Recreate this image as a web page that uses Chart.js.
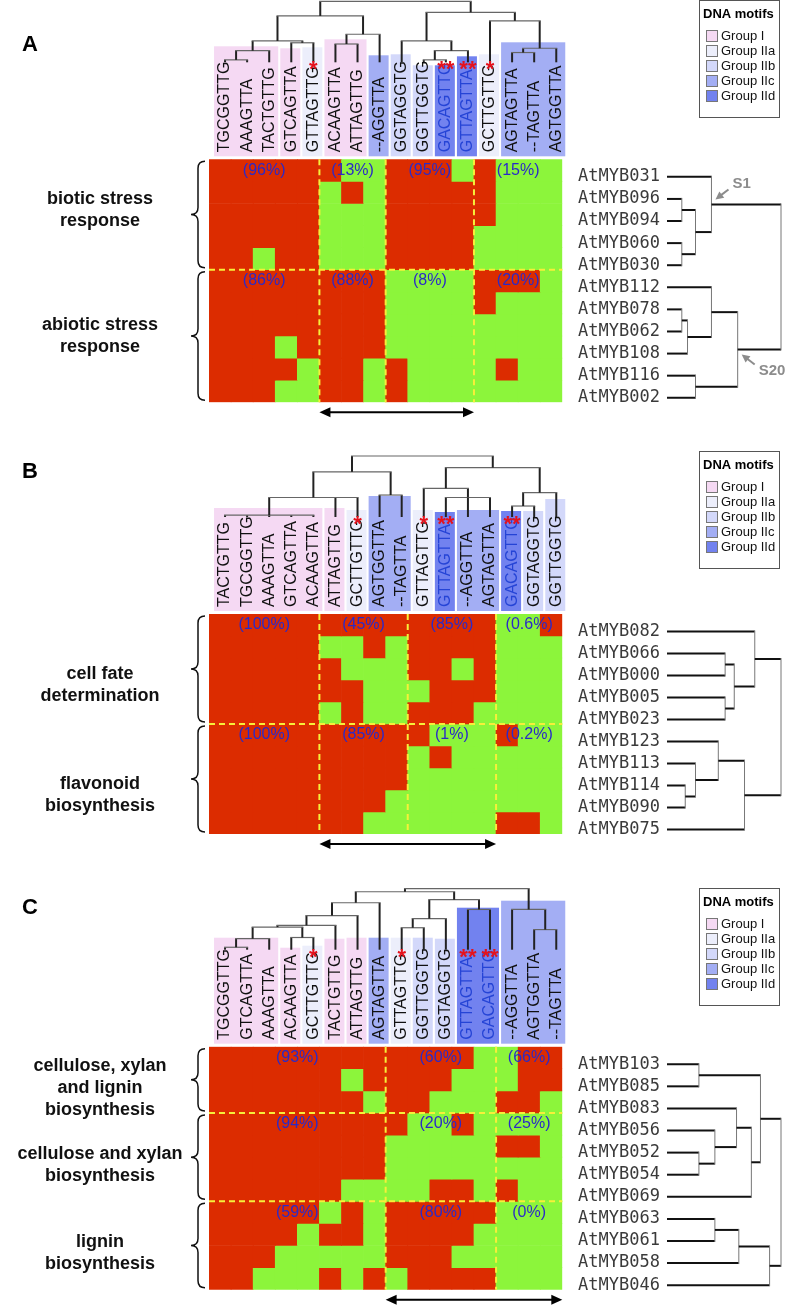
<!DOCTYPE html>
<html>
<head>
<meta charset="utf-8">
<title>MYB motif heatmaps</title>
<script src="https://cdn.jsdelivr.net/npm/chart.js"></script>
<style>
  body { margin: 0; background: #fff; width: 789px; height: 1307px; position: relative; overflow: hidden; }
  canvas { position: absolute; left: 0; }
</style>
</head>
<body>
<canvas id="panelA"></canvas>
<canvas id="panelB"></canvas>
<canvas id="panelC"></canvas>
<script>
// ---------- data ----------
const motifsA = ['TGCGGTTG','AAAGTTA','TACTGTTG','GTCAGTTA','GTTAGTTG','ACAAGTTA','ATTAGTTG','--AGGTTA',
                 'GGTAGGTG','GGTTGGTG','GACAGTTG','GTTAGTTA','GCTTGTTG','AGTAGTTA','--TAGTTA','AGTGGTTA'];
const classA = ['I','I','I','I','IIa','I','I','IIc','IIb','IIb','IId','IId','IIa','IIc','IIc','IIc'];
const starsA = [0,0,0,0,1,0,0,0,0,0,2,2,1,0,0,0];
const genesA = ['AtMYB031','AtMYB096','AtMYB094','AtMYB060','AtMYB030','AtMYB112',
                'AtMYB078','AtMYB062','AtMYB108','AtMYB116','AtMYB002'];
const cellsA = [
  [1,1,1,1,1, 1,0,0, 1,1,1,0, 1,0,0,0],
  [1,1,1,1,1, 0,1,0, 1,1,1,1, 1,0,0,0],
  [1,1,1,1,1, 0,0,0, 1,1,1,1, 1,0,0,0],
  [1,1,1,1,1, 0,0,0, 1,1,1,1, 0,0,0,0],
  [1,1,0,1,1, 0,0,0, 1,1,1,1, 0,0,0,0],
  [1,1,1,1,1, 1,1,1, 0,0,0,0, 1,1,1,0],
  [1,1,1,1,1, 1,1,1, 0,0,0,0, 1,0,0,0],
  [1,1,1,1,1, 1,1,1, 0,0,0,0, 0,0,0,0],
  [1,1,1,0,1, 1,1,1, 0,0,0,0, 0,0,0,0],
  [1,1,1,1,0, 1,1,0, 1,0,0,0, 0,1,0,0],
  [1,1,1,0,0, 1,1,0, 1,0,0,0, 0,0,0,0]
];
const colGroupsA = [5,3,4,4];
const rowGroupsA = [5,6];
const pctA = [['(96%)','(13%)','(95%)','(15%)'],['(86%)','(88%)','(8%)','(20%)']];
const traitsA = [['biotic stress','response'],['abiotic stress','response']];
// trees: [child, child, ..., height]; leaves are indices
const motifTreeA = [[[[[0,1,0.04],2,0.19],[3,4,0.32],0.35],[[5,6,0.30],7,0.46],0.76],
                    [[8,[[9,10,0.04],11,0.19],0.35],[12,[[13,14,0.16],15,0.23],0.68],0.82],1.0];
const geneTreeA = [[0,[[1,2,0.13],[3,4,0.13],0.25],0.39],[[5,[[6,7,0.13],8,0.18],0.39],[9,10,0.25],0.62],1.0];

const motifsB = ['TACTGTTG','TGCGGTTG','AAAGTTA','GTCAGTTA','ACAAGTTA','ATTAGTTG','GCTTGTTG','AGTGGTTA',
                 '--TAGTTA','GTTAGTTG','GTTAGTTA','--AGGTTA','AGTAGTTA','GACAGTTG','GGTAGGTG','GGTTGGTG'];
const classB = ['I','I','I','I','I','I','IIa','IIc','IIc','IIa','IId','IIc','IIc','IId','IIb','IIb'];
const starsB = [0,0,0,0,0,0,1,0,0,1,2,0,0,2,0,0];
const genesB = ['AtMYB082','AtMYB066','AtMYB000','AtMYB005','AtMYB023',
                'AtMYB123','AtMYB113','AtMYB114','AtMYB090','AtMYB075'];
const cellsB = [
  [1,1,1,1,1, 1,1,1,1, 1,1,1,1, 0,0,1],
  [1,1,1,1,1, 0,0,1,0, 1,1,1,1, 0,0,0],
  [1,1,1,1,1, 1,0,0,0, 1,1,0,1, 0,0,0],
  [1,1,1,1,1, 1,1,0,0, 0,1,1,1, 0,0,0],
  [1,1,1,1,1, 0,1,0,0, 1,1,1,0, 0,0,0],
  [1,1,1,1,1, 1,1,1,1, 1,0,0,0, 1,0,0],
  [1,1,1,1,1, 1,1,1,1, 0,1,0,0, 0,0,0],
  [1,1,1,1,1, 1,1,1,1, 0,0,0,0, 0,0,0],
  [1,1,1,1,1, 1,1,1,0, 0,0,0,0, 0,0,0],
  [1,1,1,1,1, 1,1,0,0, 0,0,0,0, 1,1,0]
];
const colGroupsB = [5,4,4,3];
const rowGroupsB = [5,5];
const pctB = [['(100%)','(45%)','(85%)','(0.6%)'],['(100%)','(85%)','(1%)','(0.2%)']];
const traitsB = [['cell fate','determination'],['flavonoid','biosynthesis']];
const motifTreeB = [[[[0,1,2,3,4,0.03],5,6,0.32],[7,8,0.36],0.74],
                    [[9,[10,11,12,0.32],0.47],[[13,14,0.18],15,0.40],0.81],1.0];
const geneTreeB = [[0,[[1,2,0.51],[3,4,0.51],0.59],0.77],[[5,[6,[7,8,0.16],0.25],0.45],9,0.68],1.0];

const motifsC = ['TGCGGTTG','GTCAGTTA','AAAGTTA','ACAAGTTA','GCTTGTTG','TACTGTTG','ATTAGTTG','AGTAGTTA',
                 'GTTAGTTG','GGTTGGTG','GGTAGGTG','GTTAGTTA','GACAGTTG','--AGGTTA','AGTGGTTA','--TAGTTA'];
const classC = ['I','I','I','I','IIa','I','I','IIc','IIa','IIb','IIb','IId','IId','IIc','IIc','IIc'];
const starsC = [0,0,0,0,1,0,0,0,1,0,0,2,2,0,0,0];
const genesC = ['AtMYB103','AtMYB085','AtMYB083','AtMYB056','AtMYB052','AtMYB054',
                'AtMYB069','AtMYB063','AtMYB061','AtMYB058','AtMYB046'];
const cellsC = [
  [1,1,1,1,1,1,1,1, 1,1,1,1,0, 0,1,1],
  [1,1,1,1,1,1,0,1, 1,1,1,0,0, 0,1,1],
  [1,1,1,1,1,1,1,0, 1,1,0,0,0, 1,1,0],
  [1,1,1,1,1,1,1,1, 1,0,0,1,0, 0,0,0],
  [1,1,1,1,1,1,1,1, 0,0,0,0,0, 1,1,0],
  [1,1,1,1,1,1,1,1, 0,0,0,0,0, 0,0,0],
  [1,1,1,1,1,1,0,0, 0,0,1,1,0, 1,0,0],
  [1,1,1,1,1,0,1,0, 1,1,1,1,1, 0,0,0],
  [1,1,1,1,0,1,1,0, 1,1,1,1,0, 0,0,0],
  [1,1,1,0,0,0,0,0, 1,1,1,0,0, 0,0,0],
  [1,1,0,0,0,1,0,1, 0,1,1,1,1, 0,0,0]
];
const colGroupsC = [8,5,3];
const rowGroupsC = [3,4,4];
const pctC = [['(93%)','(60%)','(66%)'],['(94%)','(20%)','(25%)'],['(59%)','(80%)','(0%)']];
const traitsC = [['cellulose, xylan','and lignin','biosynthesis'],['cellulose and xylan','biosynthesis'],['lignin','biosynthesis']];
const motifTreeC = [[[[[[[[0,1,0.04],2,0.18],[3,4,0.20],0.37],5,0.40],6,0.56],7,0.77],
                     [[[8,9,0.36],10,0.51],[11,12,0.66],0.82],0.95],[13,[14,15,0.33],0.66],1.0];
const geneTreeC = [[[0,1,0.28],[[2,[3,[4,5,0.28],0.42],0.61],6,0.74],0.82],[[[7,8,0.42],9,0.63],10,0.90],1.0];

const groupNames = ['I','IIa','IIb','IIc','IId'];

// ---------- styles / layout ----------
const RED = '#dc2c00', GREEN = '#8cf53b';
const GROUP_FILL = { I: '#f5d9f3', IIa: '#eceefb', IIb: '#d3d8fa', IIc: '#a3aef4', IId: '#7282ef' };
const SANS = "'Liberation Sans', Arial, sans-serif";
// motif boxes: [first col, last col, height above box bottom]
const boxesA = [[0,2,110],[3,3,108],[4,4,109],[5,6,117],[7,7,101],[8,8,102],[9,9,91],[10,10,91],[11,11,100],[12,12,102],[13,15,114]];
const boxesB = [[0,4,103],[5,5,103],[6,6,101],[7,8,115],[9,9,101],[10,10,99],[11,12,101],[13,13,100],[14,14,100],[15,15,112]];
const boxesC = [[0,2,106],[3,3,96],[4,4,98],[5,5,105],[6,6,106],[7,7,106],[8,8,106],[9,9,106],[10,10,105],[11,12,136],[13,15,143]];

function line(ctx, x1, y1, x2, y2) {
  ctx.beginPath(); ctx.moveTo(x1, y1); ctx.lineTo(x2, y2); ctx.stroke();
}

function treeDown(ctx, node, leafX, base, unit) {
  if (typeof node === 'number') return { x: leafX(node), y: base };
  const y = base - node[node.length - 1] * unit;
  const pts = node.slice(0, -1).map(c => treeDown(ctx, c, leafX, base, unit));
  ctx.strokeStyle = '#222'; ctx.lineWidth = 2;
  pts.forEach(p => line(ctx, p.x, p.y, p.x, y));
  const xs = pts.map(p => p.x), x0 = Math.min(...xs), x1 = Math.max(...xs);
  ctx.strokeStyle = '#666'; ctx.lineWidth = 1.2;
  line(ctx, x0 - 1, y, x1 + 1, y);
  return { x: (x0 + x1) / 2, y };
}

function treeRight(ctx, node, leafY, base, unit, nodes, path) {
  if (typeof node === 'number') return { x: base, y: leafY(node) };
  const x = base + node[node.length - 1] * unit;
  const pts = node.slice(0, -1).map((c, i) => treeRight(ctx, c, leafY, base, unit, nodes, path.concat(i)));
  ctx.strokeStyle = '#111'; ctx.lineWidth = 2;
  pts.forEach(p => line(ctx, p.x, p.y, x, p.y));
  const ys = pts.map(p => p.y), y0 = Math.min(...ys), y1 = Math.max(...ys);
  ctx.strokeStyle = '#777'; ctx.lineWidth = 1;
  line(ctx, x, y0 - 1, x, y1 + 1);
  const pt = { x, y: (y0 + y1) / 2 };
  nodes[path.join('.')] = pt;
  return pt;
}

function brace(ctx, x, y1, y2) {
  const w = 14, mid = (y1 + y2) / 2, r = 7;
  ctx.strokeStyle = '#111'; ctx.lineWidth = 1.5;
  ctx.beginPath();
  ctx.moveTo(x + w, y1);
  ctx.quadraticCurveTo(x + w / 2, y1, x + w / 2, y1 + r);
  ctx.lineTo(x + w / 2, mid - r);
  ctx.quadraticCurveTo(x + w / 2, mid, x, mid);
  ctx.quadraticCurveTo(x + w / 2, mid, x + w / 2, mid + r);
  ctx.lineTo(x + w / 2, y2 - r);
  ctx.quadraticCurveTo(x + w / 2, y2, x + w, y2);
  ctx.stroke();
}

function dblArrow(ctx, x1, x2, y) {
  ctx.strokeStyle = '#000'; ctx.fillStyle = '#000'; ctx.lineWidth = 2;
  line(ctx, x1 + 6, y, x2 - 6, y);
  ctx.beginPath(); ctx.moveTo(x1, y); ctx.lineTo(x1 + 11, y - 5); ctx.lineTo(x1 + 11, y + 5); ctx.closePath(); ctx.fill();
  ctx.beginPath(); ctx.moveTo(x2, y); ctx.lineTo(x2 - 11, y - 5); ctx.lineTo(x2 - 11, y + 5); ctx.closePath(); ctx.fill();
}

function arrowTo(ctx, fx, fy, tx, ty) {
  ctx.strokeStyle = '#8c8c8c'; ctx.fillStyle = '#8c8c8c'; ctx.lineWidth = 2;
  const a = Math.atan2(ty - fy, tx - fx);
  line(ctx, fx, fy, tx - 5 * Math.cos(a), ty - 5 * Math.sin(a));
  ctx.beginPath();
  ctx.moveTo(tx, ty);
  ctx.lineTo(tx - 8 * Math.cos(a) + 4 * Math.sin(a), ty - 8 * Math.sin(a) - 4 * Math.cos(a));
  ctx.lineTo(tx - 8 * Math.cos(a) - 4 * Math.sin(a), ty - 8 * Math.sin(a) + 4 * Math.cos(a));
  ctx.closePath(); ctx.fill();
}

function legend(ctx, left, top) {
  ctx.fillStyle = '#fff'; ctx.fillRect(left, top, 80, 117);
  ctx.strokeStyle = '#555'; ctx.lineWidth = 1;
  ctx.strokeRect(left + 0.5, top + 0.5, 80, 117);
  ctx.fillStyle = '#000'; ctx.font = 'bold 13px ' + SANS;
  ctx.textAlign = 'left'; ctx.textBaseline = 'middle';
  ctx.fillText('DNA motifs', left + 4, top + 14);
  groupNames.forEach((g, i) => {
    const y = top + 36 + i * 15;
    ctx.fillStyle = GROUP_FILL[g]; ctx.fillRect(left + 7, y - 6, 11, 11);
    ctx.strokeStyle = '#777'; ctx.strokeRect(left + 7.5, y - 5.5, 11, 11);
    ctx.fillStyle = '#111'; ctx.font = '13px ' + SANS;
    ctx.fillText('Group ' + g, left + 22, y);
  });
}

function cumulative(sizes) {
  const out = [0];
  sizes.forEach(s => out.push(out[out.length - 1] + s));
  return out;
}

function buildPanel(p) {
  const canvas = document.getElementById(p.id);
  canvas.width = 789; canvas.height = p.height;
  canvas.style.top = p.top + 'px';
  const nCols = p.motifs.length, nRows = p.genes.length;
  const colCuts = cumulative(p.colGroups), rowCuts = cumulative(p.rowGroups);

  const decor = {
    id: 'decor' + p.letter,
    afterDatasetsDraw(chart) {
      const ctx = chart.ctx, xs = chart.scales.x, ys = chart.scales.y, area = chart.chartArea;
      const cw = (area.right - area.left) / nCols;
      const edgeX = i => i < nCols ? xs.getPixelForValue(i) - cw / 2 : area.right;
      ctx.save();
      ctx.strokeStyle = '#f6ef3a'; ctx.lineWidth = 2; ctx.setLineDash([6, 4]);
      colCuts.slice(1, -1).forEach(c => line(ctx, edgeX(c), area.top, edgeX(c), area.bottom));
      rowCuts.slice(1, -1).forEach(r => line(ctx, area.left, ys.getPixelForValue(r), area.right, ys.getPixelForValue(r)));
      ctx.setLineDash([]);
      // percentages
      ctx.font = '16px ' + SANS; ctx.fillStyle = '#2a2ac8';
      ctx.textAlign = 'center'; ctx.textBaseline = 'middle';
      p.pct.forEach((rowP, rb) => rowP.forEach((t, cb) => {
        const x = (edgeX(colCuts[cb]) + edgeX(colCuts[cb + 1])) / 2;
        ctx.fillText(t, x, ys.getPixelForValue(rowCuts[rb] + 0.5));
      }));
      ctx.restore();
    },
    afterDraw(chart) {
      const ctx = chart.ctx, xs = chart.scales.x, ys = chart.scales.y, area = chart.chartArea;
      const cw = (area.right - area.left) / nCols;
      const edgeX = i => i < nCols ? xs.getPixelForValue(i) - cw / 2 : area.right;
      const cx = i => xs.getPixelForValue(i);
      const gt = area.top;
      ctx.save();
      // motif boxes
      const boxBottom = gt - 3;
      p.boxes.forEach(([a, b, h]) => {
        ctx.fillStyle = GROUP_FILL[p.classes[a]];
        const l = cx(a) - 6, r = cx(b) + 14;
        ctx.fillRect(l, boxBottom - h, r - l, h);
      });
      // motif tree
      const labelX = i => cx(i) + 5;
      treeDown(ctx, p.motifTree, labelX, gt - 97, 61);
      // motif labels + stars
      ctx.font = '16px ' + SANS; ctx.textBaseline = 'middle'; ctx.textAlign = 'left';
      p.motifs.forEach((m, i) => {
        ctx.save();
        ctx.translate(labelX(i), gt - 7);
        ctx.rotate(-Math.PI / 2);
        ctx.fillStyle = p.classes[i] === 'IId' ? '#2544d6' : '#111';
        ctx.fillText(m, 0, 0);
        ctx.restore();
        if (p.stars[i]) {
          ctx.save();
          ctx.font = 'bold 22px ' + SANS; ctx.fillStyle = '#e5121c';
          ctx.textAlign = 'center'; ctx.textBaseline = 'alphabetic';
          ctx.fillText('*'.repeat(p.stars[i]), labelX(i), gt - 83);
          ctx.restore();
        }
      });
      // gene labels and tree
      const leafY = r => ys.getPixelForValue(r + 0.5) + 6.5;
      ctx.font = '17px "DejaVu Sans Mono", monospace'; ctx.fillStyle = '#3a3a3a';
      ctx.textAlign = 'left'; ctx.textBaseline = 'middle';
      p.genes.forEach((g, r) => ctx.fillText(g, 578, leafY(r)));
      const nodes = {};
      treeRight(ctx, p.geneTree, leafY, 667, 114, nodes, []);
      (p.callouts || []).forEach(c => {
        const n = nodes[c.node];
        arrowTo(ctx, n.x + c.dx * 17, n.y + c.dy * 15, n.x + 4 * c.dx, n.y + 5 * c.dy);
        ctx.font = 'bold 15px ' + SANS; ctx.fillStyle = '#8c8c8c';
        ctx.textAlign = 'left'; ctx.textBaseline = 'middle';
        ctx.fillText(c.text, n.x + 21, n.y + c.dy * 21);
      });
      // braces and trait labels
      rowCuts.slice(0, -1).forEach((r0, b) => {
        const y1 = ys.getPixelForValue(r0) + 2, y2 = ys.getPixelForValue(rowCuts[b + 1]) - 2;
        brace(ctx, 191, y1, y2);
        const lines = p.traits[b], mid = (y1 + y2) / 2 + p.traitShift[b];
        ctx.font = 'bold 18px ' + SANS; ctx.fillStyle = '#111';
        ctx.textAlign = 'center'; ctx.textBaseline = 'middle';
        lines.forEach((t, k) => ctx.fillText(t, 100, mid + (k - (lines.length - 1) / 2) * 22));
      });
      // arrow under heatmap
      dblArrow(ctx, edgeX(p.arrow[0]), edgeX(p.arrow[1]), area.bottom + 10);
      // legend and panel letter
      legend(ctx, 699, p.legendY - p.top);
      ctx.font = 'bold 22px ' + SANS; ctx.fillStyle = '#000';
      ctx.textAlign = 'center'; ctx.textBaseline = 'middle';
      ctx.fillText(p.letter, 30, p.letterY - p.top);
      ctx.restore();
    }
  };

  new Chart(canvas, {
    type: 'bar',
    data: {
      labels: p.motifs,
      datasets: p.cells.map((row, r) => ({
        label: p.genes[r],
        data: row.map(() => 1),
        backgroundColor: row.map(v => v ? RED : GREEN),
        borderWidth: 0,
        barPercentage: 1,
        categoryPercentage: 1
      }))
    },
    options: {
      responsive: false,
      animation: false,
      devicePixelRatio: 1,
      layout: { padding: {
        left: p.grid[0], top: p.grid[1] - p.top,
        right: 789 - p.grid[2], bottom: p.top + p.height - p.grid[3]
      } },
      plugins: { legend: { display: false }, tooltip: { enabled: false } },
      scales: {
        x: { stacked: true, display: false },
        y: { stacked: true, display: false, min: 0, max: nRows, reverse: true }
      }
    },
    plugins: [decor]
  });
}

buildPanel({ id: 'panelA', letter: 'A', letterY: 45, legendY: 0, top: 0, height: 430, grid: [209, 159.3, 562.3, 402.3],
  motifs: motifsA, classes: classA, stars: starsA, genes: genesA, cells: cellsA,
  colGroups: colGroupsA, rowGroups: rowGroupsA, pct: pctA, traits: traitsA, traitShift: [-4, 0],
  motifTree: motifTreeA, geneTree: geneTreeA, boxes: boxesA, arrow: [5, 12],
  callouts: [{ text: 'S1', node: '0', dx: 1, dy: -1 }, { text: 'S20', node: '1', dx: 1, dy: 1 }] });

buildPanel({ id: 'panelB', letter: 'B', letterY: 472, legendY: 451, top: 430, height: 420, grid: [209, 614, 562.3, 834],
  motifs: motifsB, classes: classB, stars: starsB, genes: genesB, cells: cellsB,
  colGroups: colGroupsB, rowGroups: rowGroupsB, pct: pctB, traits: traitsB, traitShift: [16, 16],
  motifTree: motifTreeB, geneTree: geneTreeB, boxes: boxesB, arrow: [5, 13] });

buildPanel({ id: 'panelC', letter: 'C', letterY: 908, legendY: 888, top: 850, height: 457, grid: [209, 1046.7, 562.3, 1289.7],
  motifs: motifsC, classes: classC, stars: starsC, genes: genesC, cells: cellsC,
  colGroups: colGroupsC, rowGroups: rowGroupsC, pct: pctC, traits: traitsC, traitShift: [8, 8, 8],
  motifTree: motifTreeC, geneTree: geneTreeC, boxes: boxesC, arrow: [8, 16] });
</script>
</body>
</html>
